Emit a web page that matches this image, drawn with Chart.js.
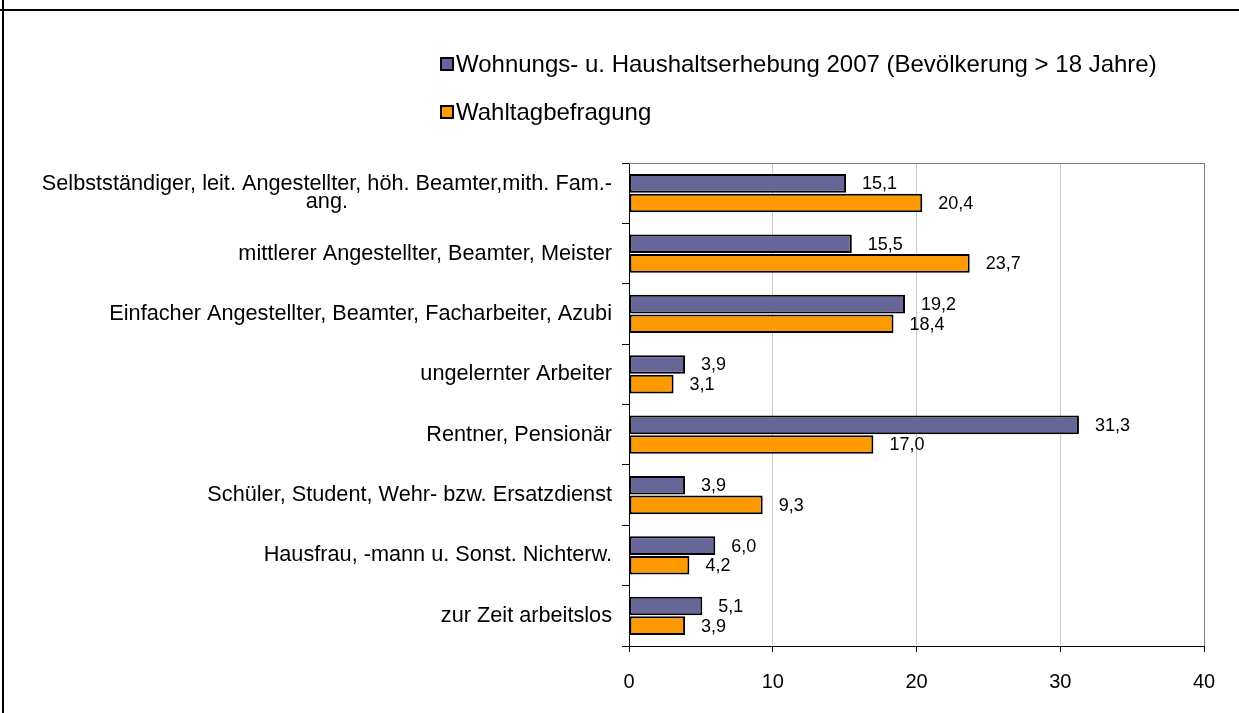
<!DOCTYPE html>
<html>
<head>
<meta charset="utf-8">
<script src="https://cdn.jsdelivr.net/npm/chart.js@4.4.1/dist/chart.umd.min.js"></script>
<style>
    html, body { margin: 0; padding: 0; background: #fff; }
    #wrap { position: relative; width: 1239px; height: 713px; overflow: hidden; }
    #chart { position: absolute; left: 0; top: 0; }
    .frame-top { position: absolute; left: 0; top: 9px; width: 1239px; height: 2px; background: #000; }
    .frame-left { position: absolute; left: 2px; top: 0; width: 2px; height: 713px; background: #000; }
</style>
</head>
<body>
<div id="wrap">
    <div class="frame-top"></div>
    <div class="frame-left"></div>
    <canvas id="chart" width="1239" height="713"></canvas>
</div>
<script>
const categories = [
    ['Selbstständiger, leit. Angestellter, höh. Beamter,mith. Fam.-', 'ang.'],
    'mittlerer Angestellter, Beamter, Meister',
    'Einfacher Angestellter, Beamter, Facharbeiter, Azubi',
    'ungelernter Arbeiter',
    'Rentner, Pensionär',
    'Schüler, Student, Wehr- bzw. Ersatzdienst',
    'Hausfrau, -mann u. Sonst. Nichterw.',
    'zur Zeit arbeitslos'
];
const seriesNames = [
    'Wohnungs- u. Haushaltserhebung 2007 (Bevölkerung > 18 Jahre)',
    'Wahltagbefragung'
];
const household = [15.1, 15.5, 19.2, 3.9, 31.3, 3.9, 6.0, 5.1];
const electionDay = [20.4, 23.7, 18.4, 3.1, 17.0, 9.3, 4.2, 3.9];
const xTicks = [0, 10, 20, 30, 40];

const FONT = '"Liberation Sans", Arial, sans-serif';
Chart.defaults.font.family = FONT;
Chart.defaults.color = '#000';

// category labels: block right aligned, lines centered in the block
const categoryLabels = {
    id: 'categoryLabels',
    afterDraw(chart) {
        const ctx = chart.ctx;
        const yScale = chart.scales.y;
        const right = 612;
        const lineH = 18;
        ctx.save();
        ctx.font = '21.7px ' + FONT;
        ctx.fillStyle = '#000';
        ctx.textBaseline = 'middle';
        ctx.textAlign = 'center';
        chart.data.labels.forEach((lab, i) => {
            const lines = Array.isArray(lab) ? lab : [lab];
            const w = Math.max(...lines.map(l => ctx.measureText(l).width));
            const cx = right - w / 2;
            const cy = yScale.getPixelForValue(i);
            lines.forEach((l, j) => {
                ctx.fillText(l, cx, cy + (j - (lines.length - 1) / 2) * lineH);
            });
        });
        ctx.restore();
    }
};

// value labels right of each bar
const valueLabels = {
    id: 'valueLabels',
    afterDatasetsDraw(chart) {
        const ctx = chart.ctx;
        ctx.save();
        ctx.font = '18px ' + FONT;
        ctx.fillStyle = '#000';
        ctx.textAlign = 'left';
        ctx.textBaseline = 'middle';
        chart.data.datasets.forEach((ds, di) => {
            chart.getDatasetMeta(di).data.forEach((bar, i) => {
                const txt = ds.data[i].toFixed(1).replace('.', ',');
                ctx.fillText(txt, bar.x + 16, bar.y + 1);
            });
        });
        ctx.restore();
    }
};

// top border of plot + legend drawn by hand (stacked vertically)
const plotFrame = {
    id: 'plotFrame',
    beforeDatasetsDraw(chart) {
        const { ctx, chartArea } = chart;
        ctx.save();
        ctx.strokeStyle = '#808080';
        ctx.lineWidth = 1;
        ctx.beginPath();
        ctx.moveTo(chartArea.left, chartArea.top + 0.5);
        ctx.lineTo(chartArea.right, chartArea.top + 0.5);
        ctx.stroke();
        ctx.restore();
    },
    afterDraw(chart) {
        const ctx = chart.ctx;
        const rows = [64, 112];
        ctx.save();
        ctx.font = '24px ' + FONT;
        ctx.textBaseline = 'middle';
        chart.data.datasets.forEach((ds, i) => {
            const y = rows[i];
            ctx.fillStyle = ds.backgroundColor;
            ctx.fillRect(441, y - 6, 12, 12);
            ctx.strokeStyle = '#000';
            ctx.lineWidth = 2;
            ctx.strokeRect(441, y - 6, 12, 12);
            ctx.fillStyle = '#000';
            ctx.fillText(ds.label, 456, y + 1);
        });
        ctx.restore();
    }
};

new Chart(document.getElementById('chart'), {
    type: 'bar',
    data: {
        labels: categories,
        datasets: [
            {
                label: seriesNames[0],
                data: household,
                backgroundColor: '#666699',
                borderColor: '#000',
                borderWidth: 2,
                borderSkipped: false,
                categoryPercentage: 0.65,
                barPercentage: 0.95
            },
            {
                label: seriesNames[1],
                data: electionDay,
                backgroundColor: '#FF9900',
                borderColor: '#000',
                borderWidth: 2,
                borderSkipped: false,
                categoryPercentage: 0.65,
                barPercentage: 0.95
            }
        ]
    },
    options: {
        indexAxis: 'y',
        responsive: false,
        animation: false,
        layout: { padding: { top: 163, right: 35, bottom: 0, left: 0 } },
        plugins: {
            legend: { display: false },
            tooltip: { enabled: false }
        },
        scales: {
            x: {
                min: 0,
                max: 40,
                afterBuildTicks: s => { s.ticks = xTicks.map(v => ({ value: v })); },
                afterFit: s => { s.height = 67; },
                grid: {
                    color: c => (c.tick && c.tick.value === 40) ? '#808080' : '#c8c8c8',
                    tickColor: '#000',
                    tickLength: 6,
                    lineWidth: 1
                },
                border: { display: true, color: '#000', width: 1 },
                ticks: {
                    padding: 18,
                    font: { size: 20 },
                    color: '#000',
                    maxRotation: 0
                }
            },
            y: {
                afterFit: s => { s.width = 629; },
                grid: {
                    drawOnChartArea: false,
                    color: '#000',
                    tickLength: 7,
                    offset: true
                },
                border: { display: true, color: '#000', width: 1 },
                ticks: { display: false }
            }
        }
    },
    plugins: [plotFrame, valueLabels, categoryLabels]
});
</script>
</body>
</html>
